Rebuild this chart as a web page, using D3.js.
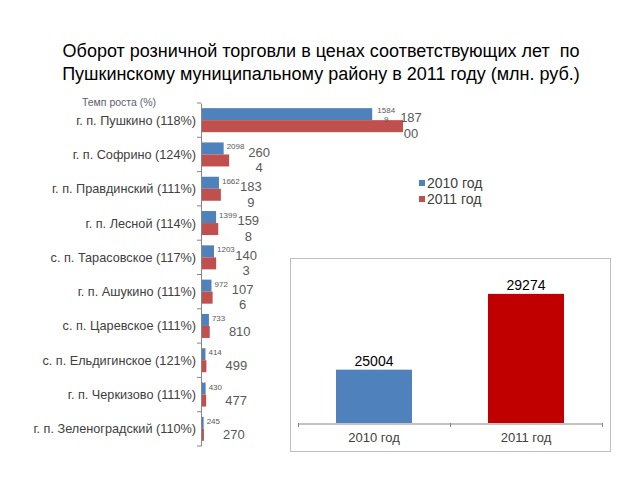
<!DOCTYPE html>
<html><head><meta charset="utf-8">
<script src="https://cdn.jsdelivr.net/npm/d3@7"></script>
<style>body{margin:0;background:#fff}svg{display:block}text{font-family:"Liberation Sans",Arial,sans-serif;white-space:pre}</style>
</head><body>
<script>
const titleLines = ["Оборот розничной торговли в ценах соответствующих лет  по", "Пушкинскому муниципальному району в 2011 году (млн. руб.)"];
const categories = ["г. п. Пушкино (118%)", "г. п. Софрино (124%)", "г. п. Правдинский (111%)", "г. п. Лесной (114%)", "с. п. Тарасовское (117%)", "г. п. Ашукино (111%)", "с. п. Царевское (111%)", "с. п. Ельдигинское (121%)", "г. п. Черкизово (111%)", "г. п. Зеленоградский (110%)"];
const values2010 = [15849, 2098, 1662, 1399, 1203, 972, 733, 414, 430, 245];
const values2011 = [18700, 2604, 1839, 1598, 1403, 1076, 810, 499, 477, 270];
const seriesNames = ["2010 год", "2011 год"];
const growthHeader = "Темп роста (%)";
const totalCategories = ["2010 год", "2011 год"];
const totalValues = [25004, 29274];

const W = 640, H = 480;
const svg = d3.select("body").append("svg").attr("width", W).attr("height", H);
const textCol = "#404040";
const blue = "#4F81BD", red = "#C0504D", darkRed = "#C00000";

// Title
svg.append("g").selectAll("text").data(titleLines).join("text")
  .attr("x", 321).attr("y", (d, i) => 57 + i * 23)
  .attr("text-anchor", "middle").attr("font-size", 18).attr("fill", "#000").text(d => d);

// Left horizontal bar chart
const x = d3.scaleLinear().domain([0, 18700]).range([201, 403]);
const y = d3.scaleBand().domain(categories).range([103, 446]).paddingInner(0.3).paddingOuter(0.15);
const ySub = d3.scaleBand().domain(seriesNames).range([0, y.bandwidth()]);

const gL = svg.append("g");
const rows = categories.map((c, i) => ({c, v: [values2010[i], values2011[i]]}));
const rowG = gL.selectAll("g.row").data(rows).join("g").attr("class", "row")
  .attr("transform", d => `translate(0,${y(d.c)})`);
rowG.selectAll("rect").data(d => d.v.map((v, k) => ({v, k}))).join("rect")
  .attr("x", x(0)).attr("y", d => ySub(seriesNames[d.k]))
  .attr("width", d => x(d.v) - x(0)).attr("height", ySub.bandwidth())
  .attr("fill", d => d.k === 0 ? blue : red);

// axis
const axis = d3.axisLeft(y).tickSize(0).tickFormat("");
const ag = gL.append("g").attr("transform", `translate(${x(0)},0)`).call(axis);
ag.select(".domain").attr("stroke", "#868686");
gL.append("g").selectAll("line").data(d3.range(categories.length + 1)).join("line")
  .attr("x1", x(0) - 4).attr("x2", x(0))
  .attr("y1", i => y.range()[0] + i * y.step()).attr("y2", i => y.range()[0] + i * y.step())
  .attr("stroke", "#868686");

// category labels
gL.append("g").selectAll("text").data(categories).join("text")
  .attr("x", 196).attr("y", d => y(d) + y.bandwidth() / 2 + 4.5)
  .attr("text-anchor", "end").attr("font-size", 12.7).attr("fill", textCol).text(d => d);

svg.append("text").attr("x", 119).attr("y", 106).attr("text-anchor", "middle")
  .attr("font-size", 10.5).attr("fill", "#5a6070").text(growthHeader);

// value labels
function splitLabel(v, n) { const s = String(v); return s.length > n ? [s.slice(0, n), s.slice(n)] : [s]; }
rows.forEach((r, i) => {
  const by = y(r.c) + ySub(seriesNames[0]) + ySub.bandwidth() / 2;
  const ry = y(r.c) + ySub(seriesNames[1]) + ySub.bandwidth() / 2;
  const bl = splitLabel(r.v[0], 4);
  const bt = gL.append("text").attr("font-size", 8).attr("fill", "#595959");
  if (bl.length === 1) {
    bt.attr("x", x(r.v[0]) + 3).attr("y", by + 1).text(bl[0]);
  } else {
    bl.forEach((s, j) => bt.append("tspan").attr("x", x(r.v[0]) + 14).attr("text-anchor", "middle")
      .attr("y", by - 1 + j * 9).text(s));
  }
  const rl = splitLabel(r.v[1], 3);
  const cx = Math.min(x(r.v[1]) + 30, 411);
  const rt = gL.append("text").attr("font-size", 13).attr("fill", "#595959").attr("text-anchor", "middle");
  rl.forEach((s, j) => rt.append("tspan").attr("x", cx)
    .attr("y", ry + 4 + (j - (rl.length - 1) / 2) * 15.5).text(s));
});

// legend
const lg = svg.append("g");
seriesNames.forEach((s, i) => {
  lg.append("rect").attr("x", 419).attr("y", 180 + i * 16).attr("width", 6).attr("height", 6).attr("fill", i === 0 ? blue : red);
  lg.append("text").attr("x", 427).attr("y", 188 + i * 16).attr("font-size", 14).attr("fill", textCol).text(s);
});

// right chart box
svg.append("rect").attr("x", 290.5).attr("y", 258.5).attr("width", 320).attr("height", 193)
  .attr("fill", "#fff").attr("stroke", "#bfbfbf");
const x2 = d3.scaleBand().domain(totalCategories).range([298, 602]).paddingInner(0.5).paddingOuter(0.25);
const y2 = d3.scaleLinear().domain([22000, 30000]).range([423, 281]);
const gR = svg.append("g");
gR.selectAll("rect").data(totalValues).join("rect")
  .attr("x", (d, i) => x2(totalCategories[i])).attr("y", d => y2(d))
  .attr("width", x2.bandwidth()).attr("height", d => y2(22000) - y2(d))
  .attr("fill", (d, i) => i === 0 ? blue : darkRed);
gR.selectAll("text.v").data(totalValues).join("text").attr("class", "v")
  .attr("x", (d, i) => x2(totalCategories[i]) + x2.bandwidth() / 2).attr("y", d => y2(d) - 4)
  .attr("text-anchor", "middle").attr("font-size", 14).attr("fill", "#000").text(d => d);
const xa = gR.append("g").attr("transform", "translate(0,423.5)")
  .call(d3.axisBottom(x2).tickSize(0).tickFormat(""));
xa.select(".domain").attr("stroke", "#868686");
[298.5, 450.5, 602.5].forEach(px => gR.append("line").attr("x1", px).attr("x2", px)
  .attr("y1", 423).attr("y2", 427).attr("stroke", "#868686"));
gR.selectAll("text.c").data(totalCategories).join("text").attr("class", "c")
  .attr("x", d => x2(d) + x2.bandwidth() / 2).attr("y", 442)
  .attr("text-anchor", "middle").attr("font-size", 13).attr("fill", textCol).text(d => d);
</script>
</body></html>
